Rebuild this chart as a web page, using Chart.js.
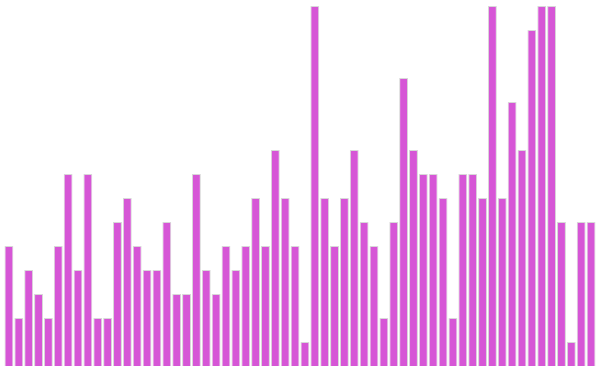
<!DOCTYPE html>
<html>
<head>
<meta charset="utf-8">
<script src="https://cdn.jsdelivr.net/npm/chart.js@4"></script>
<style>
  html, body { margin: 0; padding: 0; background: #fff; }
  #wrap { width: 600px; height: 372px; }
</style>
</head>
<body>
<div id="wrap"><canvas id="barChart"></canvas></div>
<script>
const valores = [
    5, 2, 4, 3, 2, 5, 8, 4, 8, 2,
    2, 6, 7, 5, 4, 4, 6, 3, 3, 8,
    4, 3, 5, 4, 5, 7, 5, 9, 7, 5,
    1, 15, 7, 5, 7, 9, 6, 5, 2, 6,
    12, 9, 8, 8, 7, 2, 8, 8, 7, 15,
    7, 11, 9, 14, 15, 15, 6, 1, 6, 6
];
const rotulos = valores.map((v, i) => String(i + 1));

const ctx = document.getElementById('barChart').getContext('2d');
new Chart(ctx, {
    type: 'bar',
    data: {
        labels: rotulos,
        datasets: [{
            data: valores,
            backgroundColor: '#d656d6',
            borderColor: '#d8d8d8',
            borderWidth: 1,
            barPercentage: 1,
            categoryPercentage: 0.9
        }]
    },
    options: {
        responsive: true,
        maintainAspectRatio: false,
        animation: false,
        layout: { padding: { left: 4, right: 4, top: 6, bottom: 6 } },
        plugins: { legend: { display: false }, tooltip: { enabled: false } },
        scales: {
            x: { display: false },
            y: { display: false, min: 0, max: 15 }
        }
    }
});
</script>
</body>
</html>
